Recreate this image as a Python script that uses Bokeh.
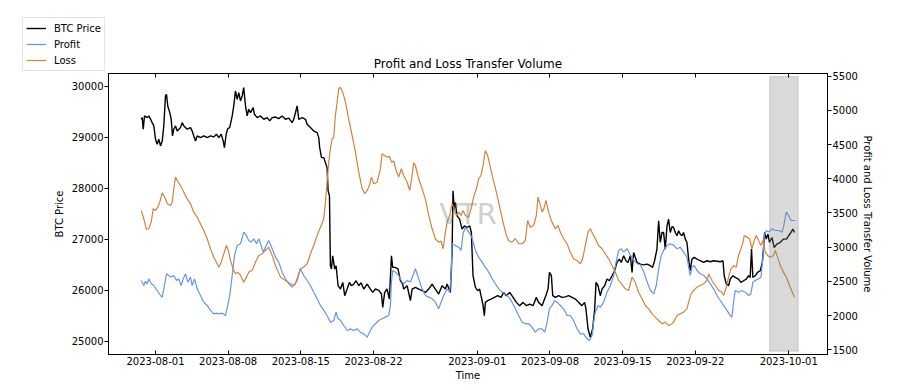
import pandas as pd
from bokeh.plotting import figure
from bokeh.layouts import column
from bokeh.models import (ColumnDataSource, Range1d, LinearAxis, DatetimeAxis, FixedTicker,
                          DatetimeTickFormatter, CustomJSTickFormatter, Legend, LegendItem,
                          Label, Title)
from bokeh.embed import file_html
from bokeh.resources import INLINE

# ---------------- data (day offsets from 2023-08-01 00:00) ----------------
ORIGIN = "2023-08-01"

btc_day = [
    -1.38, -1.28, -1.18, -1.06, -0.80, -0.65, -0.48, -0.32, -0.16, 0.00,
    0.16, 0.32, 0.48, 0.65, 0.80, 0.96, 1.06, 1.18, 1.38, 1.51,
    1.64, 1.76, 1.93, 2.09, 2.41, 2.57, 2.73, 3.05, 3.37, 3.53,
    3.69, 3.85, 4.02, 4.33, 4.65, 4.98, 5.30, 5.61, 5.87, 6.10,
    6.33, 6.52, 6.64, 6.81, 6.96, 7.15, 7.39, 7.54, 7.70, 7.87,
    8.02, 8.19, 8.35, 8.50, 8.67, 8.83, 8.98, 9.15, 9.41, 9.53,
    9.79, 10.11, 10.43, 10.76, 11.01, 11.24, 11.56, 11.87, 12.20, 12.52,
    12.84, 13.16, 13.32, 13.65, 13.80, 14.13, 14.45, 14.61, 14.93, 15.24,
    15.57, 15.73, 15.82, 15.99, 16.21, 16.37, 16.53, 16.63, 16.76, 16.85,
    16.95, 17.07, 17.27, 17.40, 17.59, 17.82, 18.04, 18.23, 18.46, 18.68,
    18.87, 19.10, 19.33, 19.58, 19.81, 20.06, 20.39, 20.71, 20.93, 21.19,
    21.51, 21.77, 21.89, 22.08, 22.31, 22.53, 22.73, 22.85, 23.11, 23.37,
    23.59, 23.81, 23.91, 24.24, 24.56, 24.72, 25.04, 25.36, 25.68, 26.00,
    26.32, 26.65, 26.96, 27.28, 27.61, 27.93, 28.09, 28.41, 28.57, 28.66,
    28.79, 28.89, 29.05, 29.30, 29.53, 29.76, 30.01, 30.27, 30.43, 30.59,
    30.82, 31.04, 31.23, 31.36, 31.56, 31.68, 31.78, 32.00, 32.33, 32.65,
    32.96, 33.29, 33.54, 33.80, 34.12, 34.45, 34.77, 35.08, 35.41, 35.73,
    36.05, 36.37, 36.69, 36.91, 37.24, 37.60, 37.82, 37.95, 38.14, 38.27,
    38.52, 38.84, 39.16, 39.48, 39.80, 40.13, 40.45, 40.76, 41.09, 41.34,
    41.47, 41.67, 41.89, 42.11, 42.31, 42.44, 42.63, 42.85, 43.02, 43.27,
    43.50, 43.72, 43.98, 44.23, 44.46, 44.68, 44.87, 45.10, 45.33, 45.52,
    45.75, 45.91, 46.06, 46.39, 46.71, 47.03, 47.35, 47.67, 47.89, 48.08,
    48.31, 48.47, 48.63, 48.80, 48.95, 49.11, 49.28, 49.43, 49.59, 49.76,
    49.91, 50.08, 50.24, 50.40, 50.56, 50.72, 50.87, 51.04, 51.20, 51.36,
    51.52, 51.68, 51.90, 52.17, 52.48, 52.80, 53.13, 53.45, 53.77, 54.09,
    54.41, 54.67, 54.79, 54.99, 55.21, 55.37, 55.63, 55.85, 56.17, 56.40,
    56.65, 56.91, 57.13, 57.29, 57.42, 57.55, 57.78, 58.00, 58.26, 58.46,
    58.58, 58.68, 58.84, 59.00, 59.15, 59.39, 59.60, 59.86, 60.19, 60.50,
    60.77, 60.99, 61.22, 61.41, 61.56,
]
btc_price = [
    29357, 29389, 29161, 29422, 29389, 29422, 29360, 29291, 29226, 28965,
    28867, 28965, 28834, 28932, 29226, 29814, 29847, 29618, 29487, 29357,
    29030, 29161, 29226, 29128, 29193, 29291, 29226, 29161, 29193, 29128,
    29030, 28932, 29030, 28997, 29030, 28997, 29030, 29010, 29063, 28997,
    29063, 28932, 28800, 29063, 29173, 29193, 29422, 29618, 29912, 29749,
    29880, 29716, 29814, 29977, 29618, 29422, 29553, 29487, 29585, 29455,
    29389, 29422, 29357, 29389, 29324, 29389, 29400, 29370, 29422, 29357,
    29380, 29291, 29357, 29618, 29357, 29390, 29357, 29259, 29193, 29128,
    29095, 28997, 28800, 28604, 28604, 28506, 28408, 27952, 27854, 26482,
    26417, 26678, 26417, 26482, 26090, 26025, 26155, 25894, 26025, 26155,
    26090, 26120, 26188, 26090, 26150, 26025, 26123, 26025, 25959, 26025,
    26000, 25927, 25665, 25959, 26025, 25829, 26678, 26449, 26449, 26417,
    26188, 26123, 26025, 26090, 25796, 26025, 26057, 26025, 25992, 25959,
    26025, 26123, 26025, 25927, 26090, 26025, 26123, 25959, 26743, 27952,
    27593, 27722, 27462, 27397, 27201, 27266, 27233, 27266, 27135, 26286,
    26057, 25992, 26025, 25894, 25698, 25502, 25763, 25796, 25829, 25861,
    25894, 25861, 25959, 25894, 25959, 25861, 25763, 25698, 25763, 25698,
    25731, 25698, 25861, 25763, 25698, 25894, 26025, 26351, 26286, 25894,
    25861, 25894, 25861, 25870, 25894, 25861, 25829, 25763, 25698, 25763,
    25633, 25241, 25077, 25241, 25633, 26155, 26090, 25894, 26025, 26090,
    26221, 26188, 26286, 26384, 26547, 26613, 26547, 26678, 26580, 26547,
    26678, 26351, 26743, 26547, 26515, 26500, 26515, 26482, 26449, 26580,
    26809, 27364, 26939, 27135, 27135, 26809, 27266, 27397, 27135, 27250,
    27233, 27135, 27070, 27168, 27100, 27070, 27135, 27005, 26939, 26613,
    26384, 26613, 26645, 26613, 26580, 26547, 26580, 26560, 26580, 26570,
    26560, 26580, 26286, 26123, 26090, 26221, 26286, 26253, 26221, 26155,
    26188, 26221, 26286, 26253, 26809, 26253, 26286, 26351, 26384, 26547,
    26841, 27135, 27005, 27103, 26939, 27037, 26841, 26906, 26939, 27005,
    27005, 27070, 27135, 27201, 27135,
]

profit_day = [
    -1.38, -1.13, -0.99, -0.80, -0.65, -0.41, -0.16, 0.16, 0.48, 0.65,
    0.80, 1.06, 1.28, 1.51, 1.76, 2.02, 2.24, 2.47, 2.67, 2.89,
    3.11, 3.37, 3.53, 3.76, 4.02, 4.33, 4.65, 4.98, 5.30, 5.61,
    5.87, 6.10, 6.42, 6.74, 6.96, 7.15, 7.39, 7.61, 7.87, 8.19,
    8.50, 8.76, 8.98, 9.22, 9.47, 9.73, 9.95, 10.18, 10.37, 10.59,
    10.91, 11.24, 11.56, 11.87, 12.20, 12.52, 12.84, 13.16, 13.48, 13.80,
    13.96, 14.28, 14.61, 14.93, 15.24, 15.57, 15.89, 16.21, 16.53, 16.85,
    17.17, 17.40, 17.59, 17.82, 18.13, 18.46, 18.78, 19.09, 19.42, 19.74,
    20.06, 20.39, 20.61, 20.87, 21.19, 21.51, 21.83, 22.15, 22.47, 22.63,
    22.73, 22.85, 23.11, 23.43, 23.76, 23.91, 24.24, 24.56, 24.87, 25.04,
    25.36, 25.68, 26.00, 26.32, 26.65, 26.96, 27.28, 27.51, 27.76, 28.09,
    28.34, 28.48, 28.57, 28.89, 29.21, 29.44, 29.63, 29.85, 30.17, 30.48,
    30.82, 31.13, 31.46, 31.78, 32.10, 32.43, 32.74, 33.07, 33.39, 33.71,
    34.03, 34.35, 34.67, 34.99, 35.31, 35.63, 35.95, 36.27, 36.59, 36.91,
    37.24, 37.50, 37.73, 37.95, 38.20, 38.45, 38.68, 39.00, 39.32, 39.65,
    39.96, 40.28, 40.61, 40.93, 41.25, 41.57, 41.80, 42.06, 42.21, 42.37,
    42.63, 42.85, 43.17, 43.50, 43.82, 44.14, 44.37, 44.62, 44.88, 45.11,
    45.44, 45.77, 46.09, 46.41, 46.73, 47.05, 47.37, 47.69, 48.01, 48.24,
    48.47, 48.73, 48.95, 49.28, 49.59, 49.91, 50.24, 50.56, 50.87, 51.20,
    51.36, 51.52, 51.68, 51.90, 52.17, 52.48, 52.80, 53.13, 53.45, 53.77,
    54.09, 54.41, 54.73, 55.05, 55.37, 55.53, 55.69, 55.85, 56.17, 56.49,
    56.81, 57.13, 57.36, 57.55, 57.78, 58.10, 58.33, 58.52, 58.65, 58.84,
    59.06, 59.39, 59.71, 60.03, 60.35, 60.50, 60.77, 60.99, 61.22, 61.47,
    61.63,
]
profit_volume = [
    2513, 2440, 2500, 2465, 2537, 2465, 2440, 2367, 2294, 2269,
    2391, 2611, 2586, 2562, 2586, 2513, 2537, 2440, 2537, 2611,
    2488, 2562, 2440, 2537, 2391, 2294, 2196, 2148, 2075, 2026,
    2035, 2026, 2035, 2001, 2148, 2294, 2586, 2879, 3025, 3050,
    3220, 3171, 3098, 3075, 3123, 3050, 3123, 3025, 2927, 3000,
    3098, 2977, 2854, 2781, 2635, 2537, 2465, 2415, 2465, 2611,
    2684, 2586, 2513, 2440, 2342, 2245, 2148, 2075, 2001, 1904,
    1928, 2050, 1953, 1930, 1855, 1782, 1806, 1782, 1806, 1757,
    1733, 1684, 1757, 1831, 1880, 1928, 1953, 1977, 2001, 2148,
    2488, 2659, 2635, 2586, 2488, 2465, 2513, 2490, 2611, 2684,
    2537, 2391, 2294, 2270, 2245, 2196, 2099, 2196, 2294, 2391,
    2342, 2586, 3050, 3025, 3000, 2952, 3196, 3292, 3220, 3147,
    2952, 2854, 2781, 2708, 2635, 2537, 2465, 2391, 2342, 2318,
    2269, 2196, 2099, 2001, 1904, 1880, 1880, 1831, 1757, 1806,
    1806, 1757, 1904, 2099, 2148, 2221, 2196, 2148, 2099, 2001,
    2001, 1928, 1806, 1733, 1733, 1660, 1635, 1709, 1904, 2050,
    2148, 2120, 2196, 2342, 2440, 2586, 2781, 2952, 2977, 2927,
    2977, 2879, 2806, 2757, 2740, 2635, 2488, 2367, 2318, 2440,
    2684, 2879, 2952, 3025, 3050, 3030, 2977, 3000, 2927, 2854,
    2708, 2586, 2708, 2732, 2659, 2611, 2590, 2537, 2465, 2391,
    2294, 2221, 2148, 2075, 2001, 1977, 2196, 2367, 2342, 2367,
    2342, 2294, 2320, 2488, 2513, 2537, 2560, 2854, 3171, 3244,
    3220, 3269, 3244, 3244, 3220, 3292, 3512, 3463, 3390, 3390,
    3390,
]

loss_day = [
    -1.38, -1.13, -0.87, -0.65, -0.41, -0.22, 0.00, 0.22, 0.41, 0.65,
    0.80, 0.96, 1.13, 1.44, 1.61, 1.76, 1.93, 2.09, 2.41, 2.73,
    3.05, 3.37, 3.69, 4.02, 4.33, 4.65, 4.98, 5.30, 5.61, 5.87,
    6.10, 6.33, 6.58, 6.84, 7.06, 7.22, 7.48, 7.70, 7.93, 8.19,
    8.50, 8.76, 8.98, 9.31, 9.63, 9.95, 10.28, 10.59, 10.91, 11.24,
    11.56, 12.04, 12.52, 13.00, 13.32, 13.65, 13.96, 14.28, 14.61, 14.93,
    15.24, 15.57, 15.89, 16.21, 16.37, 16.53, 16.69, 16.85, 17.02, 17.17,
    17.33, 17.50, 17.65, 17.82, 18.04, 18.30, 18.61, 18.94, 19.26, 19.58,
    19.91, 20.16, 20.39, 20.61, 20.80, 21.02, 21.35, 21.67, 21.83, 22.08,
    22.31, 22.53, 22.73, 22.95, 23.18, 23.43, 23.69, 23.91, 24.24, 24.49,
    24.72, 24.87, 25.04, 25.36, 25.68, 26.00, 26.32, 26.65, 26.96, 27.28,
    27.51, 27.71, 27.93, 28.09, 28.34, 28.57, 28.73, 28.99, 29.21, 29.44,
    29.63, 29.85, 30.17, 30.40, 30.65, 30.91, 31.13, 31.36, 31.56, 31.78,
    32.00, 32.26, 32.52, 32.84, 33.16, 33.48, 33.80, 34.02, 34.35, 34.67,
    34.99, 35.31, 35.63, 35.85, 36.11, 36.43, 36.69, 36.85, 37.08, 37.24,
    37.41, 37.62, 37.87, 38.20, 38.52, 38.78, 39.00, 39.32, 39.65, 39.96,
    40.28, 40.61, 40.93, 41.15, 41.41, 41.67, 41.89, 42.12, 42.37, 42.69,
    43.02, 43.34, 43.65, 43.98, 44.30, 44.62, 45.00, 45.26, 45.58, 45.91,
    46.22, 46.54, 46.87, 47.19, 47.51, 47.83, 48.15, 48.47, 48.80, 49.11,
    49.43, 49.76, 49.91, 50.24, 50.56, 50.87, 51.20, 51.36, 51.59, 51.84,
    52.17, 52.48, 52.80, 53.13, 53.29, 53.61, 53.93, 54.25, 54.57, 54.73,
    54.99, 55.21, 55.44, 55.69, 55.95, 56.17, 56.40, 56.60, 56.72, 56.98,
    57.23, 57.46, 57.68, 57.88, 58.10, 58.33, 58.52, 58.74, 58.97, 59.22,
    59.54, 59.71, 59.93, 60.19, 60.50, 60.83, 61.15, 61.41, 61.56,
]
loss_volume = [
    3537, 3415, 3259, 3269, 3366, 3561, 3537, 3585, 3658, 3795,
    3756, 3707, 3634, 3610, 3658, 3854, 4024, 3975, 3902, 3804,
    3707, 3634, 3512, 3439, 3342, 3244, 3123, 2977, 2854, 2781,
    2708, 2781, 2903, 3025, 2927, 2806, 2684, 2611, 2635, 2586,
    2488, 2562, 2635, 2659, 2781, 2879, 2903, 2952, 3000, 2880,
    2732, 2562, 2513, 2465, 2440, 2513, 2684, 2708, 2757, 2903,
    3025, 3171, 3292, 3415, 3658, 3950, 4243, 4439, 4585, 4609,
    4925, 5120, 5316, 5339, 5266, 5120, 4877, 4633, 4389, 4096,
    3854, 3781, 3829, 3902, 4024, 3927, 3950, 4146, 4365, 4341,
    4316, 4330, 4243, 4260, 4121, 4024, 4146, 4048, 3950, 3829,
    4048, 4234, 4194, 4000, 3854, 3707, 3463, 3269, 3123, 3073,
    3090, 2977, 3220, 3366, 3463, 3634, 3585, 3463, 3512, 3463,
    3537, 3463, 3439, 3561, 3731, 3854, 4000, 4048, 4194, 4414,
    4341, 4170, 4000, 3804, 3585, 3366, 3171, 3098, 3073, 3123,
    3050, 3050, 3098, 3390, 3292, 3317, 3463, 3731, 3610, 3512,
    3560, 3683, 3512, 3366, 3269, 3317, 3220, 3123, 3050, 2927,
    2830, 2806, 2757, 2830, 3025, 3220, 3269, 3196, 3123, 3025,
    2977, 2903, 2830, 2732, 2635, 2513, 2440, 2391, 2367, 2562,
    2488, 2342, 2245, 2148, 2099, 2026, 1977, 1928, 1880, 1904,
    1855, 1880, 1904, 2001, 2026, 2050, 2099, 2196, 2318, 2367,
    2415, 2440, 2465, 2513, 2611, 2513, 2440, 2367, 2342, 2294,
    2415, 2562, 2684, 2732, 2708, 2879, 2977, 3073, 3171, 3147,
    3123, 2977, 3098, 3171, 3098, 3025, 3098, 2927, 2879, 2854,
    2879, 2952, 2854, 2732, 2635, 2537, 2415, 2318, 2269,
]

x_tick_labels = ["2023-08-01", "2023-08-08", "2023-08-15", "2023-08-22", "2023-09-01",
                 "2023-09-08", "2023-09-15", "2023-09-22", "2023-10-01"]
btc_ticks = [25000, 26000, 27000, 28000, 29000, 30000]
volume_ticks = [1500, 2000, 2500, 3000, 3500, 4000, 4500, 5000, 5500]
highlight_window = ["2023-09-29 04:00", "2023-10-01 22:00"]
highlight_volume = [1480, 5495]
series_names = ["BTC Price", "Profit", "Loss"]
series_colors = ["black", "cornflowerblue", "peru"]
series_widths = [1.4, 1.2, 1.2]

# ---------------- layout / styling ----------------
FONT = "DejaVu Sans"


def as_time(days):
    return pd.Timestamp(ORIGIN) + pd.to_timedelta(days, unit="D")


x_start = pd.Timestamp("2023-07-27 11:20")
x_end = pd.Timestamp("2023-10-04 17:45")
btc_lo, btc_hi = 24740, 30255
vol_lo, vol_hi = 1431, 5539

p = figure(width=904, height=390, x_axis_type="datetime",
           x_range=Range1d(x_start, x_end), y_range=Range1d(btc_lo, btc_hi),
           output_backend="svg", toolbar_location=None, title_location=None,
           min_border_left=108, min_border_right=77, min_border_top=73, min_border_bottom=36)
p.extra_y_ranges = {"vol": Range1d(vol_lo, vol_hi)}
p.xgrid.visible = False
p.ygrid.visible = False
p.outline_line_color = "black"
p.outline_line_alpha = 1.0
p.outline_line_width = 1
p.background_fill_color = "white"
p.border_fill_color = "white"

tick_ms = [pd.Timestamp(t).value / 1e6 for t in x_tick_labels]
fmt = "%Y-%m-%d"


def date_formatter():
    return DatetimeTickFormatter(days=fmt, months=fmt, years=fmt, hours=fmt, hourmin=fmt,
                                 minutes=fmt, minsec=fmt, seconds=fmt, milliseconds=fmt,
                                 microseconds=fmt)


def style_axis(ax):
    ax.major_label_text_font = FONT
    ax.major_label_text_font_size = "10px"
    ax.major_label_text_color = "black"
    ax.axis_label_text_font = FONT
    ax.axis_label_text_font_size = "10px"
    ax.axis_label_text_font_style = "normal"
    ax.axis_label_text_color = "black"
    ax.minor_tick_in = 0
    ax.minor_tick_out = 0
    ax.axis_line_color = "black"
    ax.major_tick_line_color = "black"


xa = p.xaxis[0]
xa.ticker = FixedTicker(ticks=tick_ms)
xa.formatter = date_formatter()
xa.axis_label = "Time"
style_axis(xa)
xa.major_tick_in = 4
xa.major_tick_out = 0
xa.major_label_standoff = 2
xa.axis_label_standoff = 2

# top frame ticks (inward, no labels) -- nearest to the frame
top = DatetimeAxis(ticker=FixedTicker(ticks=tick_ms),
                   formatter=CustomJSTickFormatter(code="return ''"))
style_axis(top)
top.major_label_text_font_size = "1px"
top.major_tick_in = 4
top.major_tick_out = 0
top.major_label_standoff = 0
top.axis_line_color = None
p.add_layout(top, "above")

p.add_layout(Title(text="Profit and Loss Transfer Volume", text_font=FONT, text_font_size="12px",
                   text_font_style="normal", text_color="black", align="center", standoff=5),
             "above")

ya = p.yaxis[0]
ya.ticker = FixedTicker(ticks=btc_ticks)
ya.axis_label = "BTC Price"
style_axis(ya)
ya.major_tick_in = 0
ya.major_tick_out = 4
ya.major_label_standoff = 1
ya.axis_label_standoff = 4

ra = LinearAxis(y_range_name="vol", ticker=FixedTicker(ticks=volume_ticks),
                axis_label="Profit and Loss Transfer Volume")
style_axis(ra)
ra.major_tick_in = 0
ra.major_tick_out = 4
ra.major_label_standoff = 1
ra.axis_label_standoff = 1
p.add_layout(ra, "right")

# ---------------- glyphs ----------------
btc_src = ColumnDataSource(dict(t=as_time(btc_day), v=btc_price))
profit_src = ColumnDataSource(dict(t=as_time(profit_day), v=profit_volume))
loss_src = ColumnDataSource(dict(t=as_time(loss_day), v=loss_volume))

p.line("t", "v", source=btc_src, line_color=series_colors[0], line_width=series_widths[0])
p.line("t", "v", source=profit_src, y_range_name="vol",
       line_color=series_colors[1], line_width=series_widths[1])
p.line("t", "v", source=loss_src, y_range_name="vol",
       line_color=series_colors[2], line_width=series_widths[2])

p.quad(left=[pd.Timestamp(highlight_window[0])], right=[pd.Timestamp(highlight_window[1])],
       bottom=[highlight_volume[0]], top=[highlight_volume[1]], y_range_name="vol",
       fill_color="gray", fill_alpha=0.3, line_color="gray", line_alpha=0.3, line_width=1)

mid_x = (x_start + (x_end - x_start) / 2).value / 1e6
mid_y = (btc_lo + btc_hi) / 2
p.add_layout(Label(x=mid_x, y=mid_y, text="VTR", text_font=FONT, text_font_size="29px",
                   text_color="gray", text_alpha=0.4, text_align="center",
                   text_baseline="alphabetic"))

# ---------------- legend: small overlay figure at the top-left corner ----------------
q = figure(width=86, height=54, output_backend="svg", toolbar_location=None,
           x_axis_location=None, y_axis_location=None, min_border=0,
           x_range=Range1d(0, 1), y_range=Range1d(0, 1),
           outline_line_color=None, background_fill_color=None, border_fill_color=None,
           margin=(-373, 0, 0, 22))
q.xgrid.visible = False
q.ygrid.visible = False
first_points = [(btc_day[0], btc_price[0]), (profit_day[0], profit_volume[0]),
                (loss_day[0], loss_volume[0])]
items = []
for name, colr, w, (fx, fy) in zip(series_names, series_colors, series_widths, first_points):
    # one-point line: nothing is drawn in the tiny frame, it only feeds the legend swatch
    src = ColumnDataSource(dict(x=[fx], y=[fy]))
    r = q.line("x", "y", source=src, line_color=colr, line_width=w)
    items.append(LegendItem(label=name, renderers=[r]))
legend = Legend(items=items, location="top_left", margin=0, padding=3, spacing=2,
                label_text_font=FONT, label_text_font_size="10px", label_text_color="black",
                glyph_width=20, glyph_height=14, label_height=14, label_standoff=8,
                border_line_color="#cccccc", border_line_width=1,
                background_fill_color="white", background_fill_alpha=0.8)
q.add_layout(legend)

layout = column(p, q)
open("out.html", "w").write(file_html(layout, INLINE))
